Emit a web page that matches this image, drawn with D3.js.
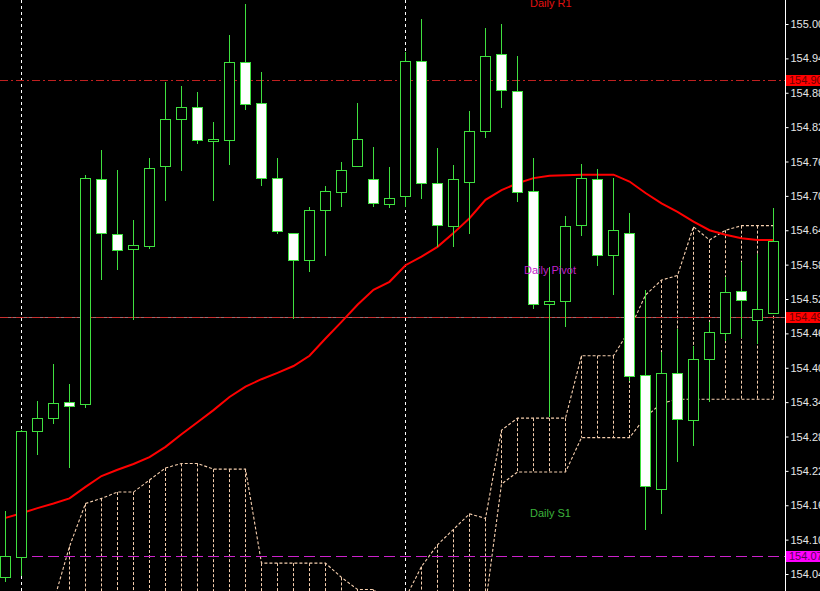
<!DOCTYPE html>
<html>
<head>
<meta charset="utf-8">
<script src="https://cdn.jsdelivr.net/npm/d3@7"></script>
<style>
  html, body { margin: 0; padding: 0; background: #000; overflow: hidden; }
  svg { display: block; }
</style>
</head>
<body>
<div id="chart"></div>
<script>
// candles, oldest to newest
var opens  = [154.040,154.075,154.295,154.318,154.346,154.341,154.734,154.638,154.612,154.618,
              154.757,154.839,154.860,154.800,154.802,154.938,154.867,154.737,154.641,154.593,
              154.681,154.712,154.757,154.734,154.691,154.704,154.940,154.728,154.653,154.730,
              154.818,154.952,154.888,154.713,154.516,154.521,154.655,154.735,154.602,154.641,
              154.392,154.193,154.395,154.313,154.421,154.465,154.539,154.488,154.500];
var highs  = [154.155,154.297,154.347,154.412,154.376,154.741,154.785,154.750,154.663,154.771,
              154.904,154.896,154.886,154.834,154.986,155.040,154.921,154.771,154.641,154.685,
              154.723,154.764,154.867,154.790,154.755,154.957,155.014,154.788,154.759,154.853,
              154.998,155.005,154.949,154.771,154.581,154.669,154.761,154.752,154.737,154.675,
              154.541,154.432,154.472,154.443,154.484,154.564,154.590,154.603,154.683];
var lows   = [154.033,154.043,154.254,154.309,154.232,154.336,154.560,154.578,154.490,154.614,
              154.698,154.751,154.798,154.698,154.760,154.857,154.724,154.641,154.491,154.574,
              154.602,154.687,154.757,154.688,154.686,154.688,154.702,154.618,154.618,154.640,
              154.808,154.861,154.696,154.509,154.320,154.478,154.637,154.584,154.533,154.384,
              154.123,154.152,154.243,154.270,154.347,154.453,154.459,154.449,154.500];
var closes = [154.077,154.295,154.317,154.343,154.339,154.736,154.640,154.610,154.619,154.753,
              154.839,154.861,154.802,154.804,154.938,154.865,154.736,154.644,154.593,154.680,
              154.713,154.751,154.804,154.693,154.702,154.940,154.728,154.655,154.734,154.819,
              154.950,154.889,154.711,154.516,154.522,154.653,154.737,154.601,154.645,154.390,
              154.198,154.395,154.315,154.420,154.467,154.537,154.523,154.507,154.627];

// moving average (red)
var maValues = [154.143,154.151,154.160,154.168,154.177,154.197,154.216,154.227,154.237,154.249,
                154.267,154.289,154.310,154.331,154.354,154.372,154.385,154.396,154.408,154.426,
                154.456,154.485,154.515,154.541,154.555,154.584,154.599,154.616,154.640,154.666,
                154.698,154.715,154.727,154.736,154.740,154.741,154.742,154.742,154.742,154.730,
                154.710,154.692,154.677,154.660,154.645,154.637,154.631,154.628,154.628];

// cloud spans
var spanA = [153.930,153.947,153.968,153.996,154.093,154.168,154.177,154.188,154.188,154.209,
             154.230,154.238,154.238,154.228,154.228,154.228,154.064,154.064,154.064,154.064,
             154.064,154.039,154.018,154.018,153.991,154.003,154.058,154.096,154.123,154.150,
             154.142,154.296,154.317,154.317,154.317,154.317,154.426,154.426,154.426,154.471,
             154.532,154.558,154.566,154.651,154.628,154.645,154.653,154.653,154.653];
var spanB = [153.900,153.900,153.900,153.900,153.900,153.900,153.900,153.900,153.900,153.900,
             153.900,153.900,153.900,153.900,153.900,153.900,153.900,153.900,153.900,153.900,
             153.900,153.900,153.900,153.900,153.900,153.900,153.920,153.940,153.950,153.965,
             153.991,154.202,154.223,154.223,154.223,154.223,154.283,154.283,154.283,154.283,
             154.319,154.343,154.350,154.350,154.350,154.350,154.350,154.350,154.350];

// daily pivot levels
var levelNames  = ["R1", "Pivot", "S1"];
var levelPrices = [154.907, 154.493, 154.077];

// day separators (bar index)
var separators = [1, 25];

// price scale labels
var priceTicks = [155.005,154.945,154.885,154.825,154.765,154.705,154.645,154.585,154.525,
                  154.465,154.405,154.345,154.285,154.225,154.165,154.105,154.045];

var width = 820, height = 591, plotRight = 785;
var green = "#3fe03f", cloudColor = "#f6cfae";

var svg = d3.select("#chart")
  .append("svg")
    .attr("width", width)
    .attr("height", height)
    .style("background", "#000");

svg.append("defs").append("clipPath").attr("id", "plotclip")
  .append("rect").attr("x", 0).attr("y", 0).attr("width", plotRight).attr("height", height);

var x = d3.scaleLinear().domain([0, opens.length - 1]).range([5.5, 773.5]);
var y = d3.scaleLinear().domain([154.045, 155.005]).range([574, 24]);
var snap = function(v) { return Math.round(v) + 0.5; };

var plot = svg.append("g").attr("clip-path", "url(#plotclip)");

// period separators
plot.selectAll(".sep")
  .data(separators)
  .enter().append("line")
    .attr("x1", function(d) { return x(d); })
    .attr("x2", function(d) { return x(d); })
    .attr("y1", 0).attr("y2", height)
    .attr("stroke", "#fff")
    .attr("stroke-dasharray", "3,3");

// cloud hatch
plot.selectAll(".hatch")
  .data(opens)
  .enter().append("line")
    .attr("x1", function(d, i) { return x(i); })
    .attr("x2", function(d, i) { return x(i); })
    .attr("y1", function(d, i) { return y(spanA[i]); })
    .attr("y2", function(d, i) { return y(spanB[i]); })
    .attr("stroke", cloudColor)
    .attr("stroke-dasharray", "3,2");

var spanLine = function(arr) {
  return d3.line().x(function(d, i) { return x(i); }).y(function(d) { return y(d); })(arr);
};
[spanA, spanB].forEach(function(s) {
  plot.append("path")
    .attr("d", spanLine(s))
    .attr("fill", "none")
    .attr("stroke", cloudColor)
    .attr("stroke-width", 1.1)
    .attr("stroke-dasharray", "3,2");
});

// level lines
var levelLine = function(price, color, dash) {
  plot.append("line")
    .attr("x1", 0).attr("x2", plotRight)
    .attr("y1", snap(y(price))).attr("y2", snap(y(price)))
    .attr("stroke", color)
    .attr("stroke-dasharray", dash);
};
levelLine(levelPrices[1], "#9c7070", null);
levelLine(levelPrices[0], "#c02020", "8,3,2,3");
levelLine(levelPrices[1], "#c83030", "8,3,2,3");
levelLine(levelPrices[2], "#cc22cc", "11,5");

// moving average
plot.append("path")
  .attr("d", d3.line().x(function(d, i) { return x(i); }).y(function(d) { return y(d); })(maValues))
  .attr("fill", "none")
  .attr("stroke", "#ff0000")
  .attr("stroke-width", 2);

// candles
var candle = plot.selectAll(".candle")
  .data(opens)
  .enter().append("g");

candle.append("line")
  .attr("x1", function(d, i) { return x(i); })
  .attr("x2", function(d, i) { return x(i); })
  .attr("y1", function(d, i) { return Math.round(y(highs[i])); })
  .attr("y2", function(d, i) { return Math.round(y(lows[i])) + 1; })
  .attr("stroke", green);

candle.append("rect")
  .attr("x", function(d, i) { return x(i) - 5; })
  .attr("y", function(d, i) { return snap(y(Math.max(opens[i], closes[i]))); })
  .attr("width", 10)
  .attr("height", function(d, i) {
    return Math.max(1, Math.round(y(Math.min(opens[i], closes[i]))) - Math.round(y(Math.max(opens[i], closes[i]))));
  })
  .attr("fill", function(d, i) { return closes[i] > opens[i] ? "#000" : "#fff"; })
  .attr("stroke", green);

// level text objects
var textStyle = function(sel, color) {
  sel.attr("font-family", "Tahoma, 'Liberation Sans', Arial, sans-serif")
     .attr("font-size", "11px")
     .attr("fill", color);
};
svg.append("text").attr("x", 530).attr("y", 7).text("Daily " + levelNames[0]).call(textStyle, "#e01010");
svg.append("text").attr("x", 524).attr("y", 274).text("Daily " + levelNames[1]).call(textStyle, "#c020c8");
svg.append("text").attr("x", 530).attr("y", 517).text("Daily " + levelNames[2]).call(textStyle, "#3cb43c");

// price axis
svg.append("line")
  .attr("x1", plotRight + 0.5).attr("x2", plotRight + 0.5)
  .attr("y1", 0).attr("y2", height)
  .attr("stroke", "#fff");

var axis = svg.append("g")
  .attr("transform", "translate(" + (plotRight + 0.5) + ",0)")
  .call(d3.axisRight(y).tickValues(priceTicks).tickFormat(d3.format(".3f")).tickSize(3).tickSizeOuter(0).tickPadding(2));
axis.select(".domain").remove();
axis.selectAll("line").attr("stroke", "#fff");
axis.selectAll("text")
  .attr("fill", "#e6e6e6")
  .attr("font-family", "Tahoma, 'Liberation Sans', Arial, sans-serif")
  .attr("font-size", "11px");

// price tags for the levels
var tagColors = ["#ff0000", "#ff0000", "#ff00ff"];
var tagText = ["#6a0000", "#6a0000", "#5a005a"];
levelPrices.forEach(function(p, i) {
  var cy = Math.round(y(p));
  svg.append("rect")
    .attr("x", plotRight + 1).attr("y", cy - 5)
    .attr("width", width - plotRight).attr("height", 11)
    .attr("fill", tagColors[i]);
  svg.append("text")
    .attr("x", plotRight + 4).attr("y", cy + 4)
    .text(d3.format(".3f")(p))
    .call(textStyle, tagText[i]);
});
</script>
</body>
</html>
